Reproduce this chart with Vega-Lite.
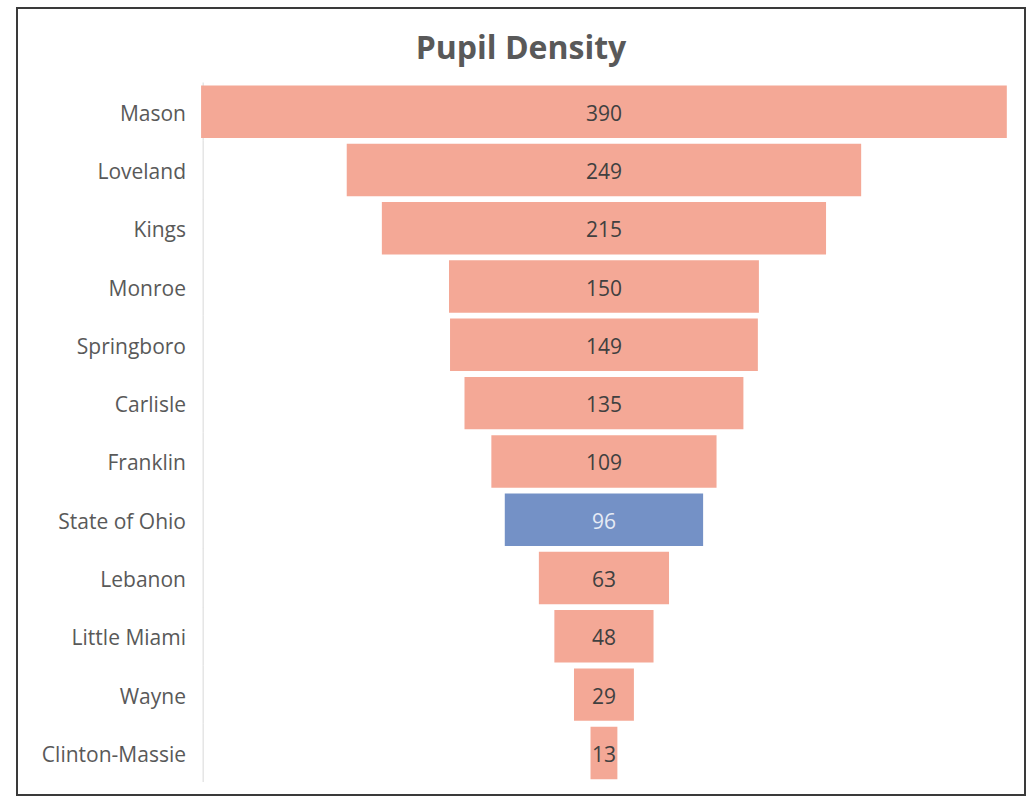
{
  "$schema": "https://vega.github.io/schema/vega-lite/v6.json",
  "width": 1008,
  "height": 787,
  "autosize": "none",
  "padding": {"left": 17, "top": 8, "right": 10, "bottom": 3},
  "background": "white",
  "config": {"view": {"stroke": "#3a3a3a", "strokeWidth": 2}},
  "title": {"text": "Pupil Density", "fontSize": 32, "font": "Open Sans", "fontWeight": "bold", "color": "#595959", "anchor": "middle", "baseline": "middle", "dy": 77},
  "data": {
    "values": [
      {"district": "Mason", "density": 390, "group": "District"},
      {"district": "Loveland", "density": 249, "group": "District"},
      {"district": "Kings", "density": 215, "group": "District"},
      {"district": "Monroe", "density": 150, "group": "District"},
      {"district": "Springboro", "density": 149, "group": "District"},
      {"district": "Carlisle", "density": 135, "group": "District"},
      {"district": "Franklin", "density": 109, "group": "District"},
      {"district": "State of Ohio", "density": 96, "group": "State"},
      {"district": "Lebanon", "density": 63, "group": "District"},
      {"district": "Little Miami", "density": 48, "group": "District"},
      {"district": "Wayne", "density": 29, "group": "District"},
      {"district": "Clinton-Massie", "density": 13, "group": "District"}
    ]
  },
  "layer": [
    {
      "mark": {"type": "tick", "size": 58.4, "thickness": 1, "color": "#d9d9d9", "opacity": 1, "orient": "vertical"},
      "encoding": {
        "x": {"datum": 1, "type": "quantitative", "axis": null},
        "y": {"field": "district", "type": "nominal", "sort": null, "axis": null}
      }
    },
    {
      "mark": {"type": "bar"},
      "encoding": {
        "y": {"field": "district", "type": "nominal", "sort": null, "axis": null,
              "scale": {"paddingInner": 0.1, "paddingOuter": 0.8, "align": 0.83}},
        "x": {"field": "density", "type": "quantitative", "stack": "center", "axis": null,
              "scale": {"domain": [-89.1, 398.8], "nice": false, "zero": false}},
        "color": {"field": "group", "type": "nominal",
                  "scale": {"domain": ["District", "State"], "range": ["#F4A896", "#7491C6"]}, "legend": null}
      }
    },
    {
      "mark": {"type": "text", "fontSize": 21, "font": "Open Sans", "baseline": "middle", "dy": 3},
      "encoding": {
        "y": {"field": "district", "type": "nominal", "sort": null, "axis": null},
        "x": {"datum": 195, "type": "quantitative", "axis": null},
        "text": {"field": "density", "type": "quantitative"},
        "color": {"condition": {"test": "datum.group === 'State'", "value": "#e6ebf5"}, "value": "#404040"}
      }
    },
    {
      "mark": {"type": "text", "fontSize": 21, "font": "Open Sans", "align": "right", "baseline": "middle", "color": "#595959", "dy": 3},
      "encoding": {
        "y": {"field": "district", "type": "nominal", "sort": null, "axis": null},
        "x": {"datum": -7.3, "type": "quantitative", "axis": null},
        "text": {"field": "district", "type": "nominal"}
      }
    }
  ],
  "encoding": {}
}
